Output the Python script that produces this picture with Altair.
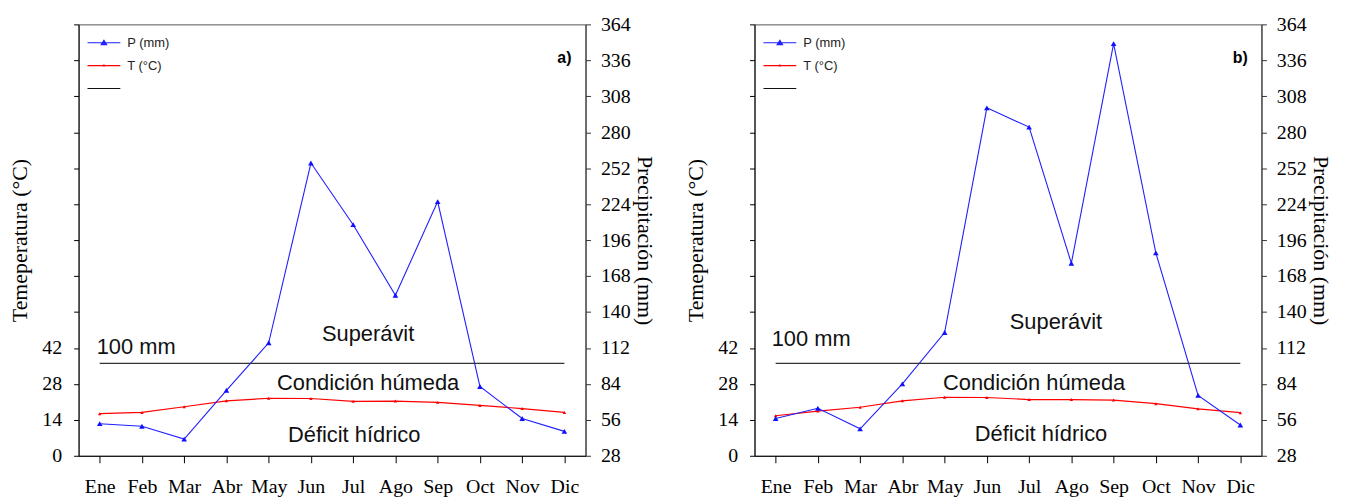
import altair as alt
import pandas as pd

# ---------------- data ----------------
months = ["Ene", "Feb", "Mar", "Abr", "May", "Jun", "Jul", "Ago", "Sep", "Oct", "Nov", "Dic"]

p_a = [53, 51, 41, 79, 116, 256, 208, 153, 226, 82, 57, 47]
t_a = [16.4, 16.9, 19.1, 21.4, 22.4, 22.3, 21.2, 21.3, 20.8, 19.6, 18.4, 16.9]

p_b = [57, 65, 49, 84, 124, 299, 284, 178, 349, 186, 75, 52]
t_b = [15.6, 17.4, 18.9, 21.4, 22.8, 22.7, 21.9, 21.9, 21.7, 20.3, 18.3, 16.8]

threshold_mm = 100
series_names = ["P (mm)", "T (°C)", " "]
series_colors = ["#2020ff", "#ff0000", "#111111"]

t_ticks = list(range(0, 169, 14))
p_ticks = list(range(28, 365, 28))

# annotation texts: (text, month anchor, value on P axis, dx, align)
notes_a = [("100 mm", "Ene", 113, -3, "left"),
           ("Superávit", "Jul", 123, 15, "center"),
           ("Condición húmeda", "Jul", 84.5, 15, "center"),
           ("Déficit hídrico", "Jul", 44.3, 1, "center")]
notes_b = [("100 mm", "Ene", 119, -4, "left"),
           ("Superávit", "Jul", 132, 27, "center"),
           ("Condición húmeda", "Jul", 84.8, 5, "center"),
           ("Déficit hídrico", "Jul", 45, 12, "center")]

SERIF = "Liberation Serif"
SANS = "Liberation Sans"

# legend glyphs (unit = half of symbol size); line ~33 px long, shifted right
legend_paths = [
    "M-0.9,-0.12H5.7V0.12H-0.9Z M1.65,0.5L2.4,-0.7L3.15,0.5Z",
    "M-0.9,-0.12H5.7V0.12H-0.9Z M2.1,0.2L2.4,-0.4L2.7,0.2Z",
    "M-0.9,-0.12H5.7V0.12H-0.9Z",
]

W, H = 510, 434

x_scale = alt.Scale(domain=months, type="point", padding=0.5)
t_scale = alt.Scale(domain=[0, 168], nice=False, zero=False)
p_scale = alt.Scale(domain=[28, 364], nice=False, zero=False)

x_enc = alt.X("mes:N", scale=x_scale, sort=months,
              axis=alt.Axis(title=None, labelAngle=0, tickSize=7, labelPadding=14,
                            labelFont=SERIF, labelFontSize=20, labelColor="#000",
                            domainColor="#000", tickColor="#000", grid=False))


def panel(p_vals, t_vals, tag, notes):
    df = pd.DataFrame({"mes": months, "P": p_vals, "T": t_vals})
    base = alt.Chart(df)

    t_axis = alt.Axis(orient="left", title="Temeperatura (°C)", values=t_ticks,
                      labelExpr="datum.value <= 42 ? datum.label : ''",
                      tickSize=5, labelPadding=12, titlePadding=10, labelFlush=False,
                      labelFont=SERIF, labelFontSize=20, labelColor="#000",
                      titleFont=SERIF, titleFontSize=22, titleFontWeight="normal",
                      titleColor="#000", domainColor="#000", tickColor="#000", grid=False)
    p_axis = alt.Axis(orient="right", title="Precipitación (mm)", values=p_ticks,
                      tickSize=5, labelPadding=10, titlePadding=2, labelFlush=False,
                      labelFont=SERIF, labelFontSize=20, labelColor="#000",
                      titleFont=SERIF, titleFontSize=22, titleFontWeight="normal",
                      titleColor="#000", domainColor="#333", tickColor="#333", grid=False)

    t_line = base.mark_line(color="#ff0000", strokeWidth=1.2).encode(
        x=x_enc, y=alt.Y("T:Q", scale=t_scale, axis=t_axis))
    t_pts = base.mark_point(shape="triangle-up", filled=True, size=12,
                            color="#ff0000", opacity=1).encode(
        x=x_enc, y=alt.Y("T:Q", scale=t_scale, axis=t_axis))
    left = alt.layer(t_line, t_pts)

    p_line = base.mark_line(color="#2020ff", strokeWidth=1.1).encode(
        x=x_enc, y=alt.Y("P:Q", scale=p_scale, axis=p_axis))
    p_pts = base.mark_point(shape="triangle-up", filled=True, size=32,
                            color="#1010ff", opacity=1).encode(
        x=x_enc, y=alt.Y("P:Q", scale=p_scale, axis=p_axis))

    thr_df = pd.DataFrame({"mes": [months[0], months[-1]],
                           "P": [threshold_mm, threshold_mm]})
    thr = alt.Chart(thr_df).mark_line(color="#333333", strokeWidth=1.3).encode(
        x=x_enc, y=alt.Y("P:Q", scale=p_scale, axis=p_axis))

    text_layers = []
    for txt, m, val, dx, align in notes:
        tdf = pd.DataFrame({"mes": [m], "P": [val], "txt": [txt]})
        text_layers.append(
            alt.Chart(tdf).mark_text(font=SANS, fontSize=22, color="#111",
                                     align=align, baseline="middle", dx=dx).encode(
                x=x_enc, y=alt.Y("P:Q", scale=p_scale, axis=p_axis), text="txt:N"))

    tag_df = pd.DataFrame({"mes": [months[-1]], "P": [338], "txt": [tag]})
    tag_layer = alt.Chart(tag_df).mark_text(font=SANS, fontSize=16, fontWeight="bold",
                                            color="#000", align="center",
                                            baseline="middle").encode(
        x=x_enc, y=alt.Y("P:Q", scale=p_scale, axis=p_axis), text="txt:N")

    leg_df = pd.DataFrame({"serie": series_names})
    leg_def = alt.Legend(title=None, orient="none", legendX=7, legendY=12, padding=0,
                         symbolSize=100, symbolStrokeWidth=0, rowPadding=9,
                         labelFont=SANS, labelFontSize=13, labelColor="#222",
                         labelOffset=29)
    legend_layer = alt.Chart(leg_df).transform_filter("false").mark_point(
        filled=True, opacity=1).encode(
        color=alt.Color("serie:N", scale=alt.Scale(domain=series_names, range=series_colors),
                        legend=leg_def),
        shape=alt.Shape("serie:N", scale=alt.Scale(domain=series_names, range=legend_paths),
                        legend=leg_def))

    right = alt.layer(p_line, p_pts, thr, *text_layers, tag_layer, legend_layer)
    return alt.layer(left, right).resolve_scale(y="independent").properties(width=W, height=H)


panel_a = panel(p_a, t_a, "a)", notes_a)
panel_b = panel(p_b, t_b, "b)", notes_b)

chart = alt.hconcat(panel_a, panel_b, spacing=28).resolve_scale(
    color="independent", shape="independent").resolve_legend(
    color="independent", shape="independent").properties(
    padding={"left": 0, "top": 4, "right": 6, "bottom": 0}
).configure_view(stroke="#555555", strokeWidth=1).configure_legend(
    labelFont=SANS, labelFontSize=13, labelColor="#222")

chart.save("out.html", embed_options={"renderer": "svg", "actions": False})
